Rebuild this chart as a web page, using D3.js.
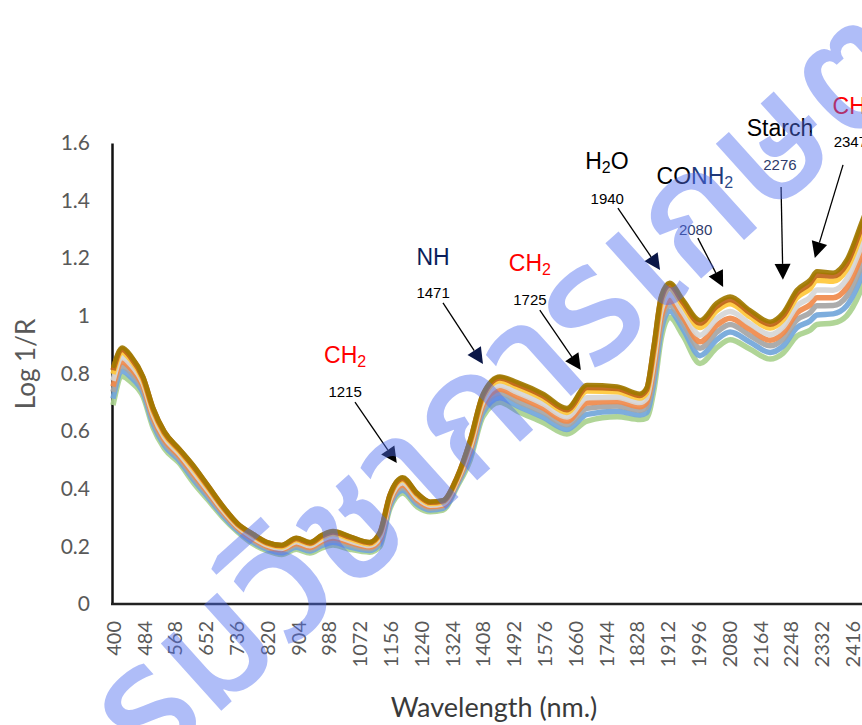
<!DOCTYPE html>
<html><head><meta charset="utf-8">
<script src="https://cdn.jsdelivr.net/npm/d3@7"></script>
<style>body{margin:0;background:#fff;overflow:hidden}svg{display:block}</style>
</head><body><svg id="c" width="862" height="725"></svg>
<script>
// ---------- data ----------
const wavelengths = [400,425,450,482,510,540,580,620,660,700,740,780,820,860,900,937,970,1000,1046,1100,1128,1155,1190,1230,1265,1300,1338,1374,1409,1455,1502,1573,1638,1693,1775,1837,1855,1875,1895,1918,1955,2001,2047,2083,2137,2192,2227,2265,2301,2320,2364,2401,2443,2480,2500];
const xTickLabels = [400,484,568,652,736,820,904,988,1072,1156,1240,1324,1408,1492,1576,1660,1744,1828,1912,1996,2080,2164,2248,2332,2416];
const yTickLabels = [0,0.2,0.4,0.6,0.8,1,1.2,1.4,1.6];

const sample1 = [.82,.89,.86,.79,.68,.60,.54,.48,.41,.34,.28,.245,.215,.205,.23,.215,.24,.253,.235,.215,.25,.38,.44,.385,.355,.36,.44,.57,.73,.79,.77,.73,.68,.76,.755,.73,.75,.90,1.07,1.115,1.055,.985,1.045,1.067,1.02,.98,1.01,1.09,1.125,1.155,1.15,1.195,1.33,1.45,1.5];
const sample2 = [.811,.883,.854,.785,.675,.596,.537,.476,.407,.337,.278,.243,.213,.203,.227,.212,.237,.25,.232,.213,.247,.377,.436,.382,.353,.358,.438,.565,.724,.784,.763,.723,.674,.751,.748,.724,.743,.889,1.06,1.107,1.046,.975,1.034,1.057,1.011,.971,1.0,1.079,1.113,1.142,1.138,1.181,1.314,1.436,1.487];
const sample3 = [.798,.873,.845,.778,.668,.59,.532,.47,.402,.333,.275,.239,.21,.199,.223,.209,.232,.245,.227,.209,.242,.372,.431,.377,.349,.354,.434,.558,.716,.775,.753,.713,.665,.739,.737,.715,.732,.873,1.045,1.095,1.034,.96,1.019,1.042,.997,.958,.986,1.063,1.095,1.124,1.12,1.162,1.291,1.416,1.469];
const sample4 = [.775,.855,.829,.766,.656,.579,.523,.459,.393,.326,.27,.233,.205,.193,.216,.202,.224,.236,.219,.203,.233,.363,.421,.368,.343,.348,.428,.546,.702,.759,.735,.695,.649,.716,.718,.699,.713,.844,1.018,1.073,1.011,.933,.991,1.015,.973,.935,.961,1.034,1.064,1.09,1.089,1.127,1.25,1.38,1.437];
const sample5 = [.755,.84,.815,.755,.645,.57,.515,.45,.385,.32,.265,.228,.2,.189,.21,.196,.218,.229,.213,.198,.225,.355,.413,.361,.338,.343,.423,.535,.69,.745,.72,.68,.635,.698,.703,.685,.698,.82,.995,1.055,.993,.91,.968,.992,.953,.915,.94,1.01,1.038,1.063,1.063,1.098,1.215,1.35,1.41];
const sample6 = [.736,.825,.802,.745,.635,.561,.508,.441,.378,.314,.261,.222,.196,.184,.204,.19,.211,.222,.206,.192,.218,.348,.404,.354,.332,.338,.418,.525,.678,.732,.705,.665,.622,.679,.687,.672,.682,.796,.973,1.037,.974,.888,.944,.97,.932,.896,.919,.986,1.011,1.035,1.036,1.068,1.18,1.32,1.383];
const sample7 = [.713,.808,.786,.733,.623,.551,.499,.431,.369,.307,.255,.216,.19,.178,.197,.184,.203,.214,.198,.186,.209,.339,.395,.346,.326,.332,.412,.513,.664,.716,.688,.648,.606,.658,.669,.656,.664,.769,.947,1.017,.953,.862,.918,.944,.909,.873,.895,.959,.982,1.003,1.007,1.035,1.141,1.286,1.352];
const sample8 = [.69,.79,.77,.72,.61,.54,.49,.42,.36,.30,.25,.21,.185,.172,.19,.177,.195,.205,.19,.18,.20,.33,.385,.337,.32,.326,.406,.50,.65,.70,.67,.63,.59,.635,.65,.64,.645,.74,.92,.995,.93,.835,.89,.917,.885,.85,.87,.93,.95,.97,.975,1.00,1.10,1.25,1.32];

const annotationLabels = [
  [["CH",""],["2","sub"]],
  [["NH",""]],
  [["CH",""],["2","sub"]],
  [["H",""],["2","sub"],["O",""]],
  [["CO",""],["NH","n"],["2","nsub"]],
  [["Starch",""]],
  [["CH",""],["2","sub"]]
];
const annotationNumbers = ["1215","1471","1725","1940","2080","2276","2347"];
// label anchor (wavelength, log 1/R), number anchor, arrow start, arrow tip
const labelAt  = [[1033,.836],[1273,1.177],[1537,1.156],[1747,1.51],[1987,1.458],[2219,1.624],[2420,1.701]];
const numberAt = [[1033,.718],[1273,1.062],[1537,1.038],[1748,1.388],[1989,1.281],[2219,1.506],[2411,1.586]];
const arrowFrom= [[1060,.701],[1300,1.045],[1564,1.020],[1777,1.374],[1995,1.270],[2222,1.447],[2391,1.524]];
const arrowTo  = [[1174,.489],[1409,.833],[1676,.812],[1892,1.159],[2064,1.100],[2227,1.125],[2314,1.201]];

const watermarkText = "กรมวิชาการเกษตร";

// ---------- drawing ----------
const samples = [sample1,sample2,sample3,sample4,sample5,sample6,sample7,sample8];
const sampleColors = ["#A07A00","#C0651A","#FFC83A","#D6D6D6","#F08A4B","#A5A5A5","#72A6DA","#A9D18E"];
const labelColors = ["#FF0000","#0B1E5B","#FF0000","#000000","#000000","#000000","#FF0000"];
const numberColors = ["#000","#000","#000","#000","#2F3B6B","#2F3B6B","#000"];
const headColors = ["#000","#0B1747","#000","#0B1747","#000","#000","#000"];

const svg = d3.select("#c");
const x = d3.scaleLinear().domain([400,2500]).range([113,883]);
const y = d3.scaleLinear().domain([0,1.6]).range([604,143]);

// axes
const yAxis = d3.axisLeft(y).tickValues(yTickLabels).tickSize(0).tickPadding(22)
  .tickFormat(d => d3.format("")(+d.toFixed(1)));
const gy = svg.append("g").attr("transform","translate(112,0)").call(yAxis);
gy.select(".domain").attr("stroke","#111").attr("stroke-width",2.5);
gy.selectAll("text").attr("fill","#595959").attr("font-family","Lato, 'Open Sans', sans-serif").attr("font-size",21);

const xAxis = d3.axisBottom(x).tickValues(xTickLabels).tickSize(0).tickFormat(d3.format("d"));
const gx = svg.append("g").attr("transform","translate(0,604)").call(xAxis);
gx.select(".domain").attr("d","M111,0H900").attr("stroke","#222").attr("stroke-width",2.5);
gx.selectAll("text").attr("fill","#595959").attr("font-family","Lato, 'Open Sans', sans-serif").attr("font-size",20)
  .attr("text-anchor","end").attr("transform","rotate(-90)").attr("x",-17).attr("y",0).attr("dy","0.36em");

svg.append("text").text("Log 1/R").attr("transform","translate(35,364) rotate(-90)")
  .attr("text-anchor","middle").attr("fill","#595959").attr("font-family","Lato, 'Open Sans', sans-serif").attr("font-size",26);
svg.append("text").text("Wavelength (nm.)").attr("x",494).attr("y",717)
  .attr("text-anchor","middle").attr("fill","#3a3a3a").attr("font-family","Lato, 'Open Sans', sans-serif").attr("font-size",27);

// spectra
const line = d3.line().x((d,i)=>x(wavelengths[i])).y(d=>y(d)).curve(d3.curveMonotoneX);
const order = d3.range(samples.length).reverse();
svg.append("g").selectAll("path").data(order).join("path")
  .attr("d", k => line(samples[k]))
  .attr("fill","none").attr("stroke", k => sampleColors[k])
  .attr("stroke-width", k => k===0 ? 4.5 : 5.5)
  .attr("stroke-linejoin","round").attr("opacity",0.92);

// annotations
const ag = svg.append("g");
annotationLabels.forEach((parts,i) => {
  const t = ag.append("text").attr("x",x(labelAt[i][0])).attr("y",y(labelAt[i][1]))
    .attr("text-anchor","middle").attr("font-family","'Liberation Sans', Arial, sans-serif")
    .attr("font-size",23).attr("fill",labelColors[i]);
  parts.forEach(([s,kind]) => {
    const ts = t.append("tspan").text(s);
    if (kind==="sub" || kind==="nsub") ts.attr("font-size",16).attr("dy",4);
    else if (kind==="" && parts.length>1 && ts.node().previousSibling) ts.attr("dy",-4);
    if (kind==="n") ts.attr("fill","#1F3A7A");
    if (kind==="nsub") ts.attr("fill","#2F4B8A");
  });
  ag.append("text").text(annotationNumbers[i]).attr("x",x(numberAt[i][0])).attr("y",y(numberAt[i][1]))
    .attr("text-anchor","middle").attr("font-family","'Liberation Sans', Arial, sans-serif")
    .attr("font-size",15).attr("fill",numberColors[i]);
  const x0=x(arrowFrom[i][0]), y0=y(arrowFrom[i][1]), x1=x(arrowTo[i][0]), y1=y(arrowTo[i][1]);
  const L=Math.hypot(x1-x0,y1-y0), ux=(x1-x0)/L, uy=(y1-y0)/L, hl=16, hw=8;
  const bx=x1-ux*hl, by=y1-uy*hl;
  ag.append("line").attr("x1",x0).attr("y1",y0).attr("x2",bx).attr("y2",by).attr("stroke","#000").attr("stroke-width",1.3);
  ag.append("path").attr("d",`M${x1},${y1}L${bx-uy*hw},${by+ux*hw}L${bx+uy*hw},${by-ux*hw}Z`).attr("fill",headColors[i]);
});

// watermark
svg.append("text").text(watermarkText).attr("transform","translate(500,398) rotate(-42)")
  .attr("text-anchor","middle").attr("dominant-baseline","middle")
  .attr("font-family","'Noto Sans Thai','Noto Sans Thai UI','Noto Sans',sans-serif").attr("font-size",165)
  .attr("font-weight",500)
  .attr("fill","rgb(80,110,240)").attr("opacity",0.45);
</script></body></html>
